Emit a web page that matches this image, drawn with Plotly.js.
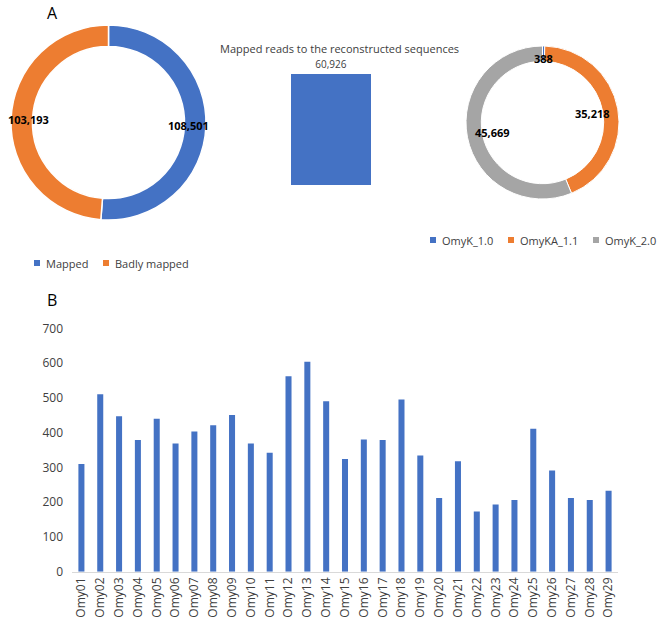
<!DOCTYPE html>
<html>
<head>
<meta charset="utf-8">
<script src="https://cdn.plot.ly/plotly-3.0.1.min.js"></script>
<style>
  body { margin: 0; background: #fff; }
  #plot { width: 660px; height: 620px; }
</style>
</head>
<body>
<div id="plot"></div>
<script>
// panel A, left donut
var mapLabels = ["Mapped", "Badly mapped"];
var mapValues = [108501, 103193];

// panel A, middle bar
var recoLabel = ["Mapped reads"];
var recoValue = [60926];

// panel A, right donut
var seqLabels = ["OmyK_1.0", "OmyKA_1.1", "OmyK_2.0"];
var seqValues = [388, 35218, 45669];

// panel B
var omyNames = ["Omy01","Omy02","Omy03","Omy04","Omy05","Omy06","Omy07","Omy08","Omy09","Omy10",
  "Omy11","Omy12","Omy13","Omy14","Omy15","Omy16","Omy17","Omy18","Omy19","Omy20",
  "Omy21","Omy22","Omy23","Omy24","Omy25","Omy26","Omy27","Omy28","Omy29"];
var omyCounts = [310, 510, 447, 379, 440, 369, 403, 421, 451, 369,
  342, 562, 604, 490, 324, 380, 379, 495, 334, 212,
  318, 173, 193, 206, 411, 291, 212, 206, 233];

var blue = "#4472C4", orange = "#ED7D31", gray = "#A5A5A5";
var txt = "#404040";
var W = 660, H = 620;
function px(x) { return x / W; }
function py(y) { return 1 - y / H; }
function fmt(v) { return v.toLocaleString("en-US"); }

var pieMap = {
  type: "pie",
  labels: mapLabels,
  values: mapValues,
  hole: 0.78,
  sort: false,
  direction: "clockwise",
  marker: {colors: [blue, orange], line: {color: "#fff", width: 1.5}},
  textinfo: "none",
  showlegend: false,
  domain: {x: [px(11), px(206)], y: [py(224), py(21)]}
};

var pieSeq = {
  type: "pie",
  labels: seqLabels,
  values: seqValues,
  hole: 0.8,
  sort: false,
  direction: "clockwise",
  marker: {colors: [blue, orange, gray], line: {color: "#fff", width: 1}},
  textinfo: "none",
  showlegend: false,
  domain: {x: [px(466), px(619)], y: [py(200), py(45)]}
};

var recoBar = {
  type: "bar",
  x: recoLabel,
  y: recoValue,
  width: 1,
  marker: {color: blue},
  text: recoValue.map(fmt),
  textposition: "outside",
  textfont: {size: 10, color: txt},
  cliponaxis: false,
  xaxis: "x2",
  yaxis: "y2",
  showlegend: false
};

var omyBar = {
  type: "bar",
  x: omyNames,
  y: omyCounts,
  marker: {color: blue},
  xaxis: "x3",
  yaxis: "y3",
  showlegend: false
};

var shapes = [];
var annotations = [];

// value labels around the donut rings, at the middle angle of each slice
function donutLabels(values, cx, cy, rText) {
  var total = values.reduce(function (a, b) { return a + b; }, 0);
  var cum = 0;
  values.forEach(function (v) {
    var a = 2 * Math.PI * (cum + v / 2) / total;
    cum += v;
    var s = fmt(v);
    var halfW = s.length * 3, halfH = 6;
    var r = rText - Math.abs(Math.sin(a)) * halfW - Math.abs(Math.cos(a)) * halfH;
    annotations.push({text: s, xref: "paper", yref: "paper",
      x: px(cx + r * Math.sin(a)), y: py(cy - r * Math.cos(a)),
      xanchor: "center", yanchor: "middle", showarrow: false,
      font: {size: 11, color: "#000", weight: "bold"}});
  });
}
donutLabels(mapValues, 108.5, 122.5, 101);
donutLabels(seqValues, 542.5, 122.5, 70);

// small legend keys for both donuts
function legendItem(x, y, color, label) {
  shapes.push({type: "rect", xref: "paper", yref: "paper",
    x0: px(x - 3), x1: px(x + 3), y0: py(y + 3), y1: py(y - 3),
    fillcolor: color, line: {width: 0}});
  annotations.push({text: label, xref: "paper", yref: "paper",
    x: px(x + 7), y: py(y), xanchor: "left", yanchor: "middle",
    showarrow: false, font: {size: 11, color: txt}});
}
legendItem(37, 263, blue, mapLabels[0]);
legendItem(106, 263, orange, mapLabels[1]);
legendItem(433, 240, blue, seqLabels[0]);
legendItem(511, 240, orange, seqLabels[1]);
legendItem(596, 240, gray, seqLabels[2]);

annotations.push({text: "Mapped reads to the reconstructed sequences", xref: "paper", yref: "paper",
  x: px(339), y: py(49), xanchor: "center", yanchor: "middle", showarrow: false,
  font: {size: 11, color: txt}});
annotations.push({text: "A", xref: "paper", yref: "paper", x: px(45), y: 1,
  xanchor: "left", yanchor: "top", showarrow: false, font: {size: 16, color: "#000"}});
annotations.push({text: "B", xref: "paper", yref: "paper", x: px(45), y: py(300),
  xanchor: "left", yanchor: "middle", showarrow: false, font: {size: 16, color: "#000"}});

var layout = {
  width: W,
  height: H,
  margin: {l: 0, r: 0, t: 0, b: 0},
  paper_bgcolor: "#fff",
  plot_bgcolor: "#fff",
  font: {family: "Open Sans", size: 12, color: txt},
  bargap: 0.68,
  xaxis2: {domain: [px(291), px(371)], anchor: "y2", range: [-0.5, 0.5], visible: false},
  yaxis2: {domain: [py(185), py(74)], anchor: "x2", range: [0, 60926], visible: false},
  xaxis3: {domain: [px(72), px(618)], anchor: "y3", tickangle: -90, showline: true,
    linecolor: "#d9d9d9", linewidth: 1, showgrid: false, ticks: "", tickfont: {size: 12, color: txt}},
  yaxis3: {domain: [py(571.7), py(328.3)], anchor: "x3", range: [0, 700], dtick: 100,
    showgrid: false, zeroline: false, showline: false, ticks: "", ticklabelstandoff: 8,
    tickfont: {size: 12, color: txt}},
  shapes: shapes,
  annotations: annotations
};

Plotly.newPlot("plot", [pieMap, pieSeq, recoBar, omyBar], layout, {displayModeBar: false, staticPlot: true});
</script>
</body>
</html>
